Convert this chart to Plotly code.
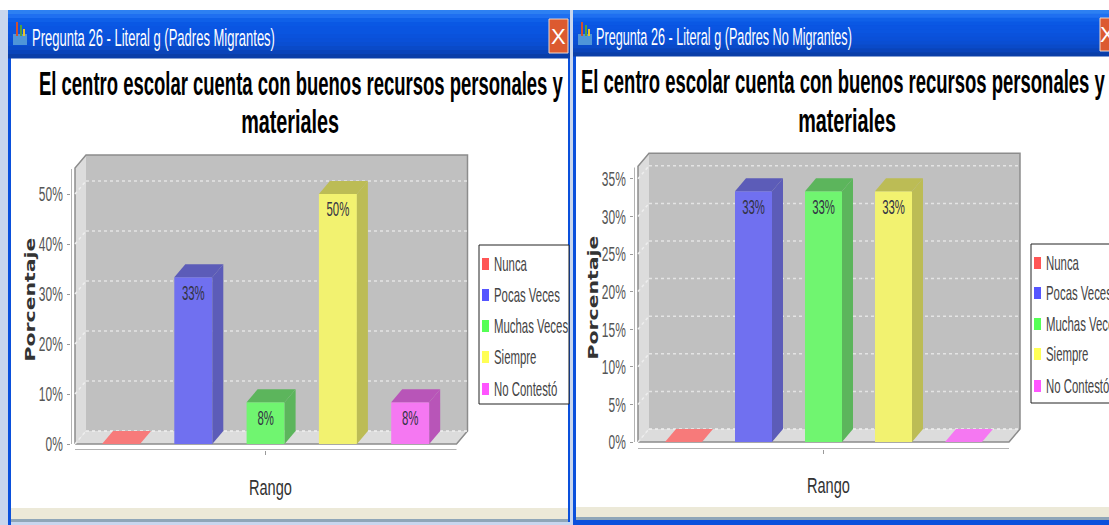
import json
import plotly.graph_objects as go

W, H = 1109, 525
categories = ["Nunca", "Pocas Veces", "Muchas Veces", "Siempre", "No Contestó"]
values_left = [0, 33.33, 8.33, 50, 8.33]
labels_left = ["", "33%", "8%", "50%", "8%"]
values_right = [0, 33.33, 33.33, 33.33, 0]
labels_right = ["", "33%", "33%", "33%", ""]
ticks_left = [0, 10, 20, 30, 40, 50]
ticks_right = [0, 5, 10, 15, 20, 25, 30, 35]
front_colors = ["#f77a7a", "#7070f0", "#70f570", "#f2f270", "#f578f2"]
side_colors = ["#c85a5a", "#5c5cb8", "#5cb55c", "#bcbc55", "#b855b8"]
legend_colors = ["#ff5555", "#5555ff", "#55ff55", "#ffff55", "#ff55ff"]
title_line1 = "El centro escolar cuenta con buenos recursos personales y"
title_line2 = "materiales"
window_left = "Pregunta 26 - Literal g (Padres Migrantes)"
window_right = "Pregunta 26 - Literal g (Padres No Migrantes)"

SANS = "Liberation Sans"
GRAD = ["#2d80f2", "#1f6ff0", "#0f60e8", "#0a58e4", "#0a55e2", "#0a55e0", "#0a52dc", "#0a50d8", "#0a4ed2", "#0a4ac8", "#0a44ba", "#0a3ea8"]


def px(x):
    return x / W


def py(y):
    return 1 - y / H


shapes = []
annotations = []


def rect(x0, y0, x1, y1, color, line=None, below=True):
    shapes.append(dict(type="rect", xref="paper", yref="paper", x0=px(x0), x1=px(x1), y0=py(y0), y1=py(y1),
                       fillcolor=color, line=dict(width=1 if line else 0, color=line or color),
                       layer="below" if below else "above"))


def text(x, y, s, size, color, family=SANS, anchor="center", bold=False, angle=0):
    annotations.append(dict(xref="paper", yref="paper", x=px(x), y=py(y), text=f"<b>{s}</b>" if bold else s,
                            showarrow=False, xanchor=anchor, yanchor="middle", textangle=angle,
                            font=dict(size=size, color=color, family=family)))


def window(x0, x1, ytop, ybar, ytan0, ytan1, title, title_x, title_cx1, title_cx2, ty1, ty2, foot):
    rect(x0, ytop, x1, H, "#0a50dc")
    rect(x0 + 3, ybar, x1 - 2, ytan0, "#ffffff")
    rect(x0 + 3, ytan0, x1 - 2, ytan1, "#ece9d8")
    rect(x0 + 3, ytan1, x1 - 2, ytan1 + 3, "#8fa6b8")
    if foot:
        rect(x0 + 3, ytan1 + 3, x1, H, foot)
    n = len(GRAD)
    step = (ybar - ytop) / n
    for i, c in enumerate(GRAD):
        rect(x0, ytop + i * step, x1, ytop + (i + 1) * step + 0.5, c)
    ix = x0 + 5
    rect(ix, ytop + 24, ix + 14, ytop + 35, "#4f95d8")
    rect(ix + 3, ytop + 12, ix + 5, ytop + 26, "#d05030")
    rect(ix + 7, ytop + 15, ix + 9, ytop + 26, "#50a040")
    rect(ix + 10, ytop + 19, ix + 12, ytop + 26, "#e8c030")
    text(title_x, (ytop + ybar) / 2 + 3, title, 24, "#ffffff", anchor="left")
    text(title_cx1, ty1, title_line1, 34, "#000000", bold=True)
    text(title_cx2, ty2, title_line2, 34, "#000000", bold=True)


def panel(idx, values, labels, ticks, cx0, step, yzero, yscale, bw, dx, dy,
          ax_x, left, right, wall_top, ax_bottom, ax_top, leg_x, leg_y0, leg_y1, leg_rows, rango_x, rango_y, por_x):
    xn = "x" if idx == 1 else f"x{idx}"
    yn = "y" if idx == 1 else f"y{idx}"
    X = lambda p: (p - cx0) / step
    ddx, ddy = dx / step, dy / yscale
    xl, xr = X(left), X(right)
    ytop = wall_top

    def poly(pts, fill, line=None, dash=None, width=1):
        path = "M " + " L ".join(f"{a:.4f},{b:.4f}" for a, b in pts) + (" Z" if fill else "")
        shapes.append(dict(type="path", xref=xn, yref=yn, path=path, layer="below",
                           fillcolor=fill or "rgba(0,0,0,0)",
                           line=dict(color=line or "rgba(0,0,0,0)", width=width if line else 0, dash=dash or "solid")))

    poly([(xl + ddx, ddy), (xr + ddx, ddy), (xr + ddx, ytop), (xl + ddx, ytop)], "#c0c0c0")
    poly([(xl, 0), (xl + ddx, ddy), (xl + ddx, ytop), (xl, ytop - ddy)], "#dcdcdc")
    poly([(xl, 0), (xr, 0), (xr + ddx, ddy), (xl + ddx, ddy)], "#dcdcdc")
    poly([(xl, 0), (xl, ytop - ddy), (xl + ddx, ytop), (xr + ddx, ytop), (xr + ddx, ddy), (xr, 0), (xl, 0)],
         None, "#8c8c8c", None, 1.5)
    poly([(xl + ddx, ddy), (xr + ddx, ddy)], None, "#f0f0f0", "dot", 1.5)
    for t in ticks:
        if t:
            poly([(xl + ddx, t + ddy), (xr + ddx, t + ddy)], None, "#e4e4e4", "dot", 1.5)
        poly([(xl, t), (xl + ddx, t + ddy)], None, "#eeeeee", "dot", 1.5)
    poly([(X(ax_x), 0), (X(ax_x), ax_top)], None, "#9a9a9a", None, 1.5)
    poly([(xl, ax_bottom), (xr, ax_bottom)], None, "#9a9a9a", None, 1.5)

    xs = list(range(len(categories)))
    half = bw / step / 2
    fig.add_trace(go.Bar(x=xs, y=values, width=bw / step, marker=dict(color=front_colors, line=dict(width=0)),
                         xaxis=xn, yaxis=yn, showlegend=False, name="Porcentaje"))
    for i, v in enumerate(values):
        top_face = [(i - half, v), (i + half, v), (i + half + ddx, v + ddy), (i - half + ddx, v + ddy), (i - half, v)]
        col = front_colors[i] if v == 0 else side_colors[i]
        fig.add_trace(go.Scatter(x=[p[0] for p in top_face], y=[p[1] for p in top_face], mode="lines", fill="toself",
                                 fillcolor=col, line=dict(width=0), xaxis=xn, yaxis=yn, showlegend=False,
                                 hoverinfo="skip"))
        if v > 0:
            side = [(i + half, 0), (i + half + ddx, ddy), (i + half + ddx, v + ddy), (i + half, v), (i + half, 0)]
            fig.add_trace(go.Scatter(x=[p[0] for p in side], y=[p[1] for p in side], mode="lines", fill="toself",
                                     fillcolor=side_colors[i], line=dict(width=0), xaxis=xn, yaxis=yn,
                                     showlegend=False, hoverinfo="skip"))
    shown = [i for i, l in enumerate(labels) if l]
    fig.add_trace(go.Scatter(x=shown, y=[values[i] - 17.5 / yscale for i in shown], text=[labels[i] for i in shown],
                             mode="text", textfont=dict(family=SANS, size=20, color="#333344"),
                             xaxis=xn, yaxis=yn, showlegend=False, hoverinfo="skip"))

    bottom_px = yzero - ax_bottom * yscale
    top_px = yzero - wall_top * yscale - 5
    xa = dict(domain=[px(ax_x), px(right + dx + 4)], range=[X(ax_x), X(right + dx + 4)], anchor=yn, showgrid=False,
              zeroline=False, showline=False, tickmode="array", tickvals=[2], ticktext=[""], ticks="outside",
              ticklen=4, tickcolor="#9a9a9a", automargin=False)
    ya = dict(domain=[py(bottom_px), py(top_px)], range=[ax_bottom, (yzero - top_px) / yscale], anchor=xn,
              showgrid=False, zeroline=False, showline=False, tickmode="array", tickvals=ticks,
              ticktext=[f"{t}%" for t in ticks], ticks="outside", ticklen=3, tickcolor="#9a9a9a",
              tickfont=dict(family=SANS, size=21, color="#555555"), automargin=False)
    fig.update_layout({"xaxis" if idx == 1 else f"xaxis{idx}": xa, "yaxis" if idx == 1 else f"yaxis{idx}": ya})

    text(rango_x, rango_y, "Rango", 22, "#333333")
    text(por_x, yzero - 144, "Porcentaje", 14, "#333333", family="DejaVu Sans", bold=True, angle=-90)

    rect(leg_x, leg_y0, leg_x + 90, leg_y1, "#ffffff", "#222222")
    for name, color, ry in zip(categories, legend_colors, leg_rows):
        rect(leg_x + 3, ry - 6, leg_x + 10, ry + 6, color)
        text(leg_x + 13, ry, name, 20, "#444444", anchor="left")


fig = go.Figure()
window(8, 570, 10, 58, 508, 519, window_left, 30, 301, 290, 83, 121, "#c8d6ee")
window(573, 1112, 10, 56, 507, 517, window_right, 594, 843, 847, 81, 120, None)
rect(549, 19, 568, 53, "#dc5a30", "#f0d8c8")
text(558.5, 36, "X", 22, "#ffffff")
rect(1100, 18, 1112, 51, "#dc5a30", "#f0d8c8")
text(1107, 35, "X", 22, "#ffffff")

panel(1, values_left, labels_left, ticks_left, 121, 72.3, 444, 5.0, 38, 11, 13,
      71, 75, 456.5, 57.8, -1.2, 55, 479, 245, 404, [264, 295, 326, 357, 389], 270, 487, 30)
panel(2, values_right, labels_right, ticks_right, 683.5, 70, 442, 7.52, 37, 11, 13,
      634, 638, 1009, 38.4, -0.93, 36.5, 1031, 244, 403, [263, 293, 324, 354, 386], 828, 485, 593)

fig.update_layout(width=W, height=H, autosize=False, margin=dict(l=0, r=0, t=0, b=0), paper_bgcolor="#c8d6ee",
                  plot_bgcolor="rgba(0,0,0,0)", annotations=annotations, showlegend=False, barmode="overlay")
rect_top = dict(type="rect", xref="paper", yref="paper", x0=0, x1=1, y0=py(10), y1=1, fillcolor="#ffffff",
                line=dict(width=0), layer="below")
fig.update_layout(shapes=[rect_top] + shapes)

# The reference's text is horizontally squeezed; fit each text's width, keeping its anchor fixed.
fit = {title_line1: [524, "c"], title_line2: [98, "c"], window_left: [243, "l"], window_right: [256, "l"],
       "Rango": [43, "c"], "Porcentaje": [124, "c"]}
for name in categories:
    fit[name] = [None, "l"]
post = """
document.body.style.margin='0';document.body.style.overflow='hidden';
var FIT=%s;
document.querySelectorAll('.main-svg text').forEach(function(t){
  var s=t.textContent; if(!s) return;
  var b=t.getBBox(), k=0.57, piv=b.x+b.width/2;
  if(FIT[s]){ if(FIT[s][0]) k=FIT[s][0]/b.width; if(FIT[s][1]=='l') piv=b.x; }
  else if(/y[0-9]*tick/.test(t.parentNode.getAttribute('class')||'')){ piv=b.x+b.width; }
  else if(s=='X'){ return; }
  var old=t.getAttribute('transform')||'';
  t.setAttribute('transform',old+' translate('+piv+',0) scale('+k+',1) translate('+(-piv)+',0)');
});
""" % json.dumps(fit)
fig.write_html("out.html", post_script=post, config={"displayModeBar": False})
